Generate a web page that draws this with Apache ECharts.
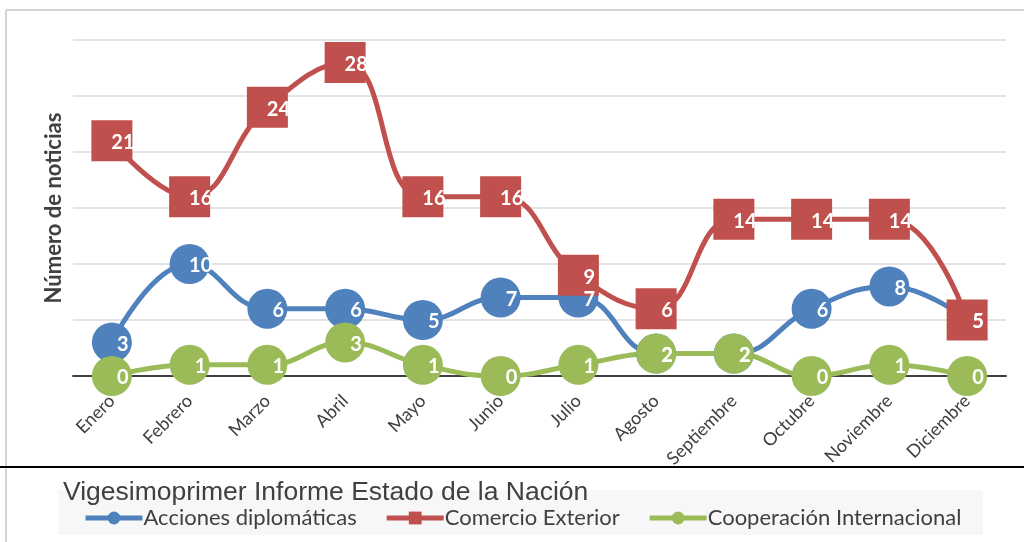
<!DOCTYPE html>
<html>
<head>
<meta charset="utf-8">
<script src="https://cdn.jsdelivr.net/npm/echarts@6/dist/echarts.min.js"></script>
<style>
html,body{margin:0;padding:0;background:#fff;}
#c{width:1024px;height:542px;}
</style>
</head>
<body>
<div id="c"></div>
<script>
const months = ['Enero','Febrero','Marzo','Abril','Mayo','Junio','Julio','Agosto','Septiembre','Octubre','Noviembre','Diciembre'];
const acciones = [3,10,6,6,5,7,7,2,2,6,8,5];
const comercio = [21,16,24,28,16,16,9,6,14,14,14,5];
const cooperacion = [0,1,1,3,1,0,1,2,2,0,1,0];
const seriesNames = ['Acciones diplomáticas','Comercio Exterior','Cooperación Internacional'];
const titleText = 'Vigesimoprimer Informe Estado de la Nación';
const yName = 'Número de noticias';

const chart = echarts.init(document.getElementById('c'));
const lbl = {
  show: true, position: 'inside', offset: [11, 2],
  color: '#fff', fontFamily: 'Lato', fontWeight: 'bold', fontSize: 20
};
function mk(name, data, color, symbol, size) {
  return {
    name, type: 'line', data, smooth: 0.45,
    symbol, symbolSize: size, showSymbol: true,
    lineStyle: {color, width: 5},
    itemStyle: {color, opacity: 1},
    label: lbl,
    emphasis: {disabled: true}
  };
}
chart.setOption({
  animation: false,
  title: {
    text: titleText, left: 58, top: 474,
    textStyle: {fontFamily: 'Liberation Sans', fontWeight: 'normal', fontSize: 26.5, color: '#404040'}
  },
  graphic: [
    {type: 'rect', shape: {x: 58, y: 490, width: 925, height: 45}, style: {fill: '#f7f7f7'}, z: -10},
    {type: 'line', shape: {x1: 6, y1: 10, x2: 1024, y2: 10}, style: {stroke: '#d4d4d4', lineWidth: 2}},
    {type: 'line', shape: {x1: 6, y1: 10, x2: 6, y2: 542}, style: {stroke: '#d4d4d4', lineWidth: 2}},
    {type: 'line', shape: {x1: 0, y1: 467, x2: 1024, y2: 467}, style: {stroke: '#000', lineWidth: 2}}
  ],
  legend: {
    left: 78, top: 502, itemWidth: 57, itemHeight: 16, itemGap: 27.5,
    lineStyle: {width: 5},
    textStyle: {fontFamily: 'Lato', fontSize: 22, color: '#404040', padding: [0,0,0,-4]},
    data: seriesNames
  },
  grid: {left: 73, right: 18, top: 40, bottom: 166},
  xAxis: {
    type: 'category', data: months, boundaryGap: true,
    axisLine: {lineStyle: {color: '#404040', width: 2}},
    axisTick: {show: false},
    axisLabel: {rotate: 45, fontFamily: 'Lato', fontSize: 18, color: '#404040', margin: 22, interval: 0}
  },
  yAxis: {
    type: 'value', min: 0, max: 30, interval: 5,
    name: yName, nameLocation: 'middle', nameGap: 8,
    nameTextStyle: {fontFamily: 'Lato', fontWeight: 'bold', fontSize: 22, color: '#404040'},
    axisLabel: {show: false}, axisLine: {show: false}, axisTick: {show: false},
    splitLine: {lineStyle: {color: '#e3e3e3', width: 2}}
  },
  series: [
    mk(seriesNames[0], acciones, '#4F81BD', 'circle', 40),
    mk(seriesNames[1], comercio, '#C0504D', 'rect', 41),
    mk(seriesNames[2], cooperacion, '#9BBB59', 'circle', 40)
  ]
});
</script>
</body>
</html>
